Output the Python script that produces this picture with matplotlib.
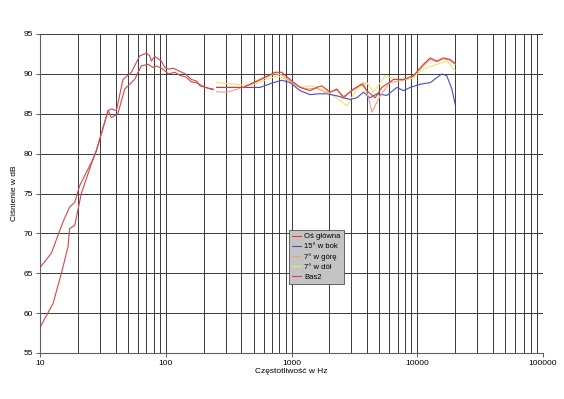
import matplotlib
matplotlib.use("Agg")
import matplotlib.pyplot as plt
from matplotlib.ticker import LogLocator, NullFormatter

plt.rcParams['font.family'] = ['Liberation Sans', 'DejaVu Sans']

# --- data ---
# Oś główna: low-frequency part + mid/high part
main_low_f = [10, 10.9, 12.7, 14.8, 16.7, 17.2, 18.9, 21.3, 26.4, 28.1, 34.8, 36.9, 41.6, 47.2, 56.6,
              64, 72.3, 79.4, 84.3, 95, 105, 118, 130, 145, 160, 176, 200, 238]
main_low_db = [58.2, 59.3, 61.2, 65.0, 68.3, 70.6, 71.0, 75.0, 79.3, 80.4, 85.4, 84.5, 85.0, 88.1, 89.3,
               91.0, 91.2, 90.8, 91.0, 90.6, 90.0, 90.2, 89.8, 89.6, 89.0, 88.9, 88.4, 88.0]
main_f = [254, 300, 414, 562, 741, 837, 975, 1170, 1406, 1584, 1742, 2028, 2291, 2588, 3110, 3625,
          4090, 4625, 5230, 6470, 7770, 9330, 11200, 12670, 14320, 16150, 18300, 20000]
main_db = [88.3, 88.3, 88.3, 89.3, 90.2, 90.2, 89.3, 88.3, 87.9, 88.3, 88.5, 87.7, 88.1, 87.0, 88.1, 88.7,
           87.7, 87.0, 88.3, 89.3, 89.3, 89.75, 91.2, 92.0, 91.6, 92.0, 91.8, 91.3]

blue_f = [254, 350, 562, 718, 837, 975, 1170, 1406, 1640, 1909, 2291, 2588, 2925, 3306, 3734, 4220,
          4774, 5730, 6880, 7770, 8790, 10540, 12670, 15700, 17190, 18840, 20000]
blue_db = [88.3, 88.3, 88.3, 88.9, 89.2, 88.9, 87.9, 87.4, 87.5, 87.5, 87.25, 87.0, 86.8, 87.0, 87.7, 87.0,
           87.5, 87.3, 88.3, 87.9, 88.3, 88.7, 88.9, 90.0, 89.75, 88.1, 86.2]

up_f = [254, 306, 414, 562, 718, 837, 1102, 1324, 1584, 1909, 2291, 2588, 3110, 3734, 4100, 4355,
        5070, 6060, 7770, 9330, 11200, 12670, 14320, 16150, 18300, 20000]
up_db = [87.75, 87.7, 88.3, 89.2, 90.0, 89.9, 88.5, 88.1, 88.2, 87.6, 88.0, 87.2, 88.0, 88.9, 87.0, 85.2,
         87.25, 88.9, 89.2, 89.8, 91.0, 91.8, 91.5, 91.9, 91.7, 91.2]

down_f = [254, 367, 469, 636, 764, 918, 1170, 1449, 1690, 1800, 2158, 2754, 3306, 3972, 4474, 5555,
          6880, 8790, 11200, 14320, 17190, 20000]
down_db = [88.9, 88.7, 88.5, 89.3, 89.75, 89.3, 88.3, 88.5, 88.1, 88.1, 87.25, 86.0, 88.1, 88.9, 87.7, 89.75,
           89.3, 89.3, 90.6, 91.2, 91.6, 90.4]

bas2_f = [10, 12.3, 15.2, 17.2, 18.9, 20.7, 26.4, 28.1, 34.8, 36.9, 40.5, 45.7, 53.3, 62.1, 70.1, 74.6,
          76.9, 81.8, 92.3, 98.2, 105, 115, 126, 143, 160, 176, 187, 218, 238]
bas2_db = [65.7, 67.5, 71.4, 73.3, 73.9, 76.0, 79.3, 80.4, 85.4, 85.6, 85.4, 89.3, 90.2, 92.25, 92.6, 92.25,
           91.6, 92.2, 91.6, 90.8, 90.6, 90.7, 90.4, 90.0, 89.3, 89.1, 88.5, 88.2, 88.1]

labels = ["Oś główna", "15° w bok", "7° w górę", "7° w dół", "Bas2"]
colors = ["#e03a2a", "#4a4ac8", "#e8a088", "#f0e070", "#d04848"]

fig = plt.figure(figsize=(5.64, 3.99), dpi=100)
ax = fig.add_axes([40/564, 1-353/399, (543-40)/564, (353-34)/399])

lw = 0.8
ax.plot(main_low_f, main_low_db, color=colors[4], lw=lw)
ax.plot(main_f, main_db, color=colors[0], lw=lw, label=labels[0], zorder=5)
ax.plot(blue_f, blue_db, color=colors[1], lw=lw, label=labels[1], zorder=3)
ax.plot(up_f, up_db, color=colors[2], lw=lw, label=labels[2], zorder=4)
ax.plot(down_f, down_db, color=colors[3], lw=lw, label=labels[3], zorder=2)
ax.plot(bas2_f, bas2_db, color=colors[4], lw=lw, label=labels[4])

ax.set_xscale('log')
ax.set_xlim(10, 100000)
ax.set_ylim(55, 95)
ax.set_yticks([55, 60, 65, 70, 75, 80, 85, 90, 95])
ax.set_xticks([10, 100, 1000, 10000, 100000])
ax.set_xticklabels(["10", "100", "1000", "10000", "100000"])
ax.xaxis.set_minor_locator(LogLocator(base=10, subs=range(2, 10), numticks=20))
ax.xaxis.set_minor_formatter(NullFormatter())

ax.grid(True, which='major', color='#383838', lw=0.7)
ax.grid(True, which='minor', axis='x', color='#383838', lw=0.7)
ax.tick_params(axis='both', which='major', labelsize=6, length=3, width=0.7, color='#606060', pad=2)
ax.tick_params(axis='x', which='minor', length=0)
for s in ['top', 'right']:
    ax.spines[s].set_visible(False)
for s in ['left', 'bottom']:
    ax.spines[s].set_color('#606060')
    ax.spines[s].set_linewidth(0.8)

ax.set_xlabel("Częstotliwość w Hz", fontsize=6, labelpad=1)
ax.set_ylabel("Ciśnienie w dB", fontsize=6, labelpad=4)

leg = fig.legend(loc='upper left', bbox_to_anchor=(289/564, 1-230/399), fontsize=5.5,
                 frameon=True, fancybox=False, handlelength=1.2, handletextpad=0.4,
                 borderpad=0.4, labelspacing=0.35, borderaxespad=0)
leg.get_frame().set_facecolor('#c4c4c4')
leg.get_frame().set_edgecolor('#505050')
leg.get_frame().set_linewidth(0.6)
leg.get_frame().set_alpha(1)

fig.savefig("out.png", dpi=100)
